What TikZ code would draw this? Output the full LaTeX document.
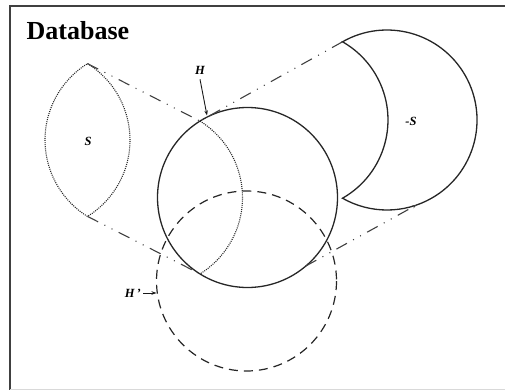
\documentclass[tikz,border=0pt]{standalone}
\usepackage{fontspec}
\setmainfont{Liberation Serif}
\usetikzlibrary{calc, arrows.meta}

\begin{document}
\begin{tikzpicture}[x=1pt, y=-1pt,
  hull/.style={draw=black!85, line width=1.3pt},
  ghost/.style={draw=black!85, line width=1.1pt, dash pattern=on 1pt off 1.1pt},
  shadow/.style={draw=black!85, line width=1.2pt, dash pattern=on 9pt off 6pt},
  ray/.style={draw=black!75, line width=1.1pt,
              dash pattern=on 12pt off 7pt on 1pt off 7pt on 1pt off 7pt},
  tag/.style={font=\fontsize{12.5}{14}\selectfont\bfseries\itshape, inner sep=0pt},
  pointer/.style={draw=black!90, line width=0.9pt, -{Stealth[length=5pt,width=3.5pt]}},
]
\useasboundingbox (0,0) rectangle (505,390);

% frame
\draw[black!75, line width=1.8pt] (10,390) -- (10,6) -- (505,6);
\draw[black!15, line width=1pt] (10,389.5) -- (505,389.5);

\node[font=\fontsize{26}{30}\selectfont\bfseries, anchor=base west, inner sep=0pt]
  (title) at (26.5,40) {Database};

% key points
\coordinate (sTop) at (87.5,63.6);
\coordinate (sBot) at (87.5,216.4);
\coordinate (hTop) at (200,121.1);
\coordinate (hBot) at (200,273.9);
\coordinate (mTop) at (342.5,41.8);
\coordinate (mRim) at (416.3,205.1);
\coordinate (hRim) at (305.8,266);
\coordinate (hMark) at (207,115.5);
\coordinate (hpMark) at (156.5,293);

% S and its trace inside H
\draw[ghost] (sTop) arc[start angle=-58.13, end angle=58.13, radius=90]
  arc[start angle=121.87, end angle=238.13, radius=90] -- cycle;
\draw[ghost] (hTop) arc[start angle=-58.13, end angle=58.13, radius=90];

% H and H'
\draw[hull] (247.5,197.5) circle[radius=90];
\draw[shadow] (246.5,281) circle[radius=90];

% -S
\draw[hull] (mTop) arc[start angle=240.35, end angle=479.65, radius=90]
  arc[start angle=60.35, end angle=-60.35, radius=90] -- cycle;

% rays
\draw[ray] (sTop) -- (hTop);
\draw[ray] (sBot) -- (hBot);
\draw[ray] (mTop) -- (hTop);
\draw[ray, -{Stealth[length=4pt,width=3pt]}] (hRim) -- (mRim);

% labels
\node[tag] (lblS) at (88,141) {S};
\node[tag] (lblH) at (200,70) {H};
\node[tag] (lblNeg) at (411,121) {-S};
\node[tag, anchor=east] (lblHp) at (141,293) {H\,'};

\draw[pointer] ([yshift=-5pt]lblH.south) -- (hMark);
\draw[pointer] ([xshift=2pt]lblHp.east) -- (hpMark);
\end{tikzpicture}
\end{document}
